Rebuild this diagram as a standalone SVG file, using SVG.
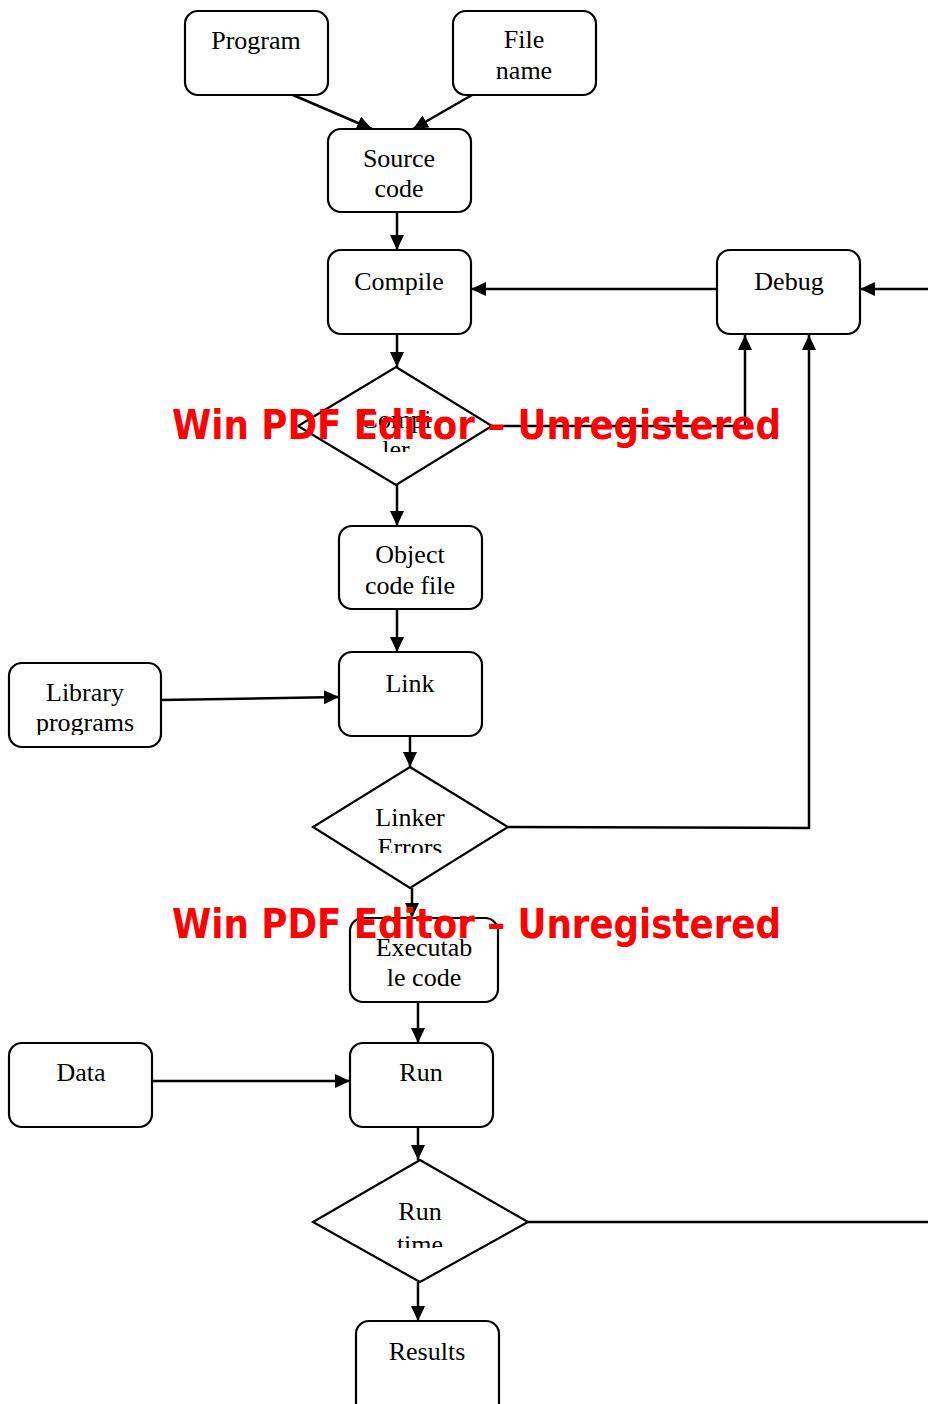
<svg xmlns="http://www.w3.org/2000/svg" width="928" height="1404" viewBox="0 0 928 1404">
<style>
.n{fill:#fff;stroke:#000;stroke-width:2.2}
.t{font-family:"Liberation Serif","Times New Roman",serif;font-size:26px;fill:#000;text-anchor:middle}
.c{fill:none;stroke:#000;stroke-width:2.5}
.w{font-family:"DejaVu Sans",Verdana,sans-serif;font-weight:bold;font-size:40px;fill:#f00}
</style>
<defs>
<marker id="a" markerUnits="userSpaceOnUse" markerWidth="16" markerHeight="14" refX="15" refY="7" orient="auto">
<path d="M0,0 L15,7 L0,14 Z" fill="#000"/>
</marker>
<clipPath id="c1"><rect x="300" y="380" width="190" height="72"/></clipPath>
<clipPath id="c2"><rect x="310" y="790" width="200" height="63"/></clipPath>
<clipPath id="c3"><rect x="310" y="1180" width="220" height="68"/></clipPath>
<clipPath id="c4"><rect x="10" y="670" width="150" height="65"/></clipPath>
</defs>
<g id="connectors">
<path class="c" d="M293,95 L372,129" marker-end="url(#a)"/>
<path class="c" d="M472,95 L413,129" marker-end="url(#a)"/>
<path class="c" d="M397,212 V250" marker-end="url(#a)"/>
<path class="c" d="M717,289 H471" marker-end="url(#a)"/>
<path class="c" d="M928,289 H860" marker-end="url(#a)"/>
<path class="c" d="M397,334 V367" marker-end="url(#a)"/>
<path class="c" d="M492,426 H745 V335" marker-end="url(#a)"/>
<path class="c" d="M397,485 V526" marker-end="url(#a)"/>
<path class="c" d="M397,609 V652" marker-end="url(#a)"/>
<path class="c" d="M161,700 L339,697" marker-end="url(#a)"/>
<path class="c" d="M410,736 V767" marker-end="url(#a)"/>
<path class="c" d="M508,827 L809,828 V335" marker-end="url(#a)"/>
<path class="c" d="M412,888 V918" marker-end="url(#a)"/>
<path class="c" d="M418,1002 V1043" marker-end="url(#a)"/>
<path class="c" d="M152,1081 H350" marker-end="url(#a)"/>
<path class="c" d="M418,1127 V1160" marker-end="url(#a)"/>
<path class="c" d="M528,1222 H928"/>
<path class="c" d="M418,1282 V1321" marker-end="url(#a)"/>
</g>
<g id="program"><rect class="n" x="185" y="11" width="143" height="84" rx="13"/><text class="t" x="256" y="49">Program</text></g>
<g id="filename"><rect class="n" x="453" y="11" width="143" height="84" rx="13"/><text class="t" x="524" y="48">File</text><text class="t" x="524" y="79">name</text></g>
<g id="source"><rect class="n" x="328" y="129" width="143" height="83" rx="13"/><text class="t" x="399" y="167">Source</text><text class="t" x="399" y="197">code</text></g>
<g id="compile"><rect class="n" x="328" y="250" width="143" height="84" rx="13"/><text class="t" x="399" y="290">Compile</text></g>
<g id="debug"><rect class="n" x="717" y="250" width="143" height="84" rx="13"/><text class="t" x="789" y="290">Debug</text></g>
<g id="compiler"><polygon class="n" points="396,367 492,426 396,485 298,426"/><g clip-path="url(#c1)"><text class="t" x="396" y="428">Compi</text><text class="t" x="396" y="458">ler</text></g></g>
<g id="object"><rect class="n" x="339" y="526" width="143" height="83" rx="13"/><text class="t" x="410" y="563">Object</text><text class="t" x="410" y="594">code file</text></g>
<g id="link"><rect class="n" x="339" y="652" width="143" height="84" rx="13"/><text class="t" x="410" y="692">Link</text></g>
<g id="library"><rect class="n" x="9" y="663" width="152" height="84" rx="13"/><g clip-path="url(#c4)"><text class="t" x="85" y="701">Library</text><text class="t" x="85" y="731">programs</text></g></g>
<g id="linker"><polygon class="n" points="410,767 508,827 410,888 313,827"/><g clip-path="url(#c2)"><text class="t" x="410" y="826">Linker</text><text class="t" x="410" y="856">Errors</text></g></g>
<g id="executable"><rect class="n" x="350" y="918" width="148" height="84" rx="13"/><text class="t" x="424" y="956">Executab</text><text class="t" x="424" y="986">le code</text></g>
<g id="data"><rect class="n" x="9" y="1043" width="143" height="84" rx="13"/><text class="t" x="81" y="1081">Data</text></g>
<g id="run"><rect class="n" x="350" y="1043" width="143" height="84" rx="13"/><text class="t" x="421" y="1081">Run</text></g>
<g id="runtime"><polygon class="n" points="420,1160 528,1222 420,1282 313,1222"/><g clip-path="url(#c3)"><text class="t" x="420" y="1220">Run</text><text class="t" x="420" y="1253">time</text></g></g>
<g id="results"><rect class="n" x="356" y="1321" width="143" height="100" rx="13"/><text class="t" x="427" y="1360">Results</text></g>
<g id="watermark">
<text class="w" x="172" y="439" textLength="609" lengthAdjust="spacingAndGlyphs">Win PDF Editor – Unregistered</text>
<text class="w" x="172" y="938" textLength="609" lengthAdjust="spacingAndGlyphs">Win PDF Editor – Unregistered</text>
</g>
</svg>
